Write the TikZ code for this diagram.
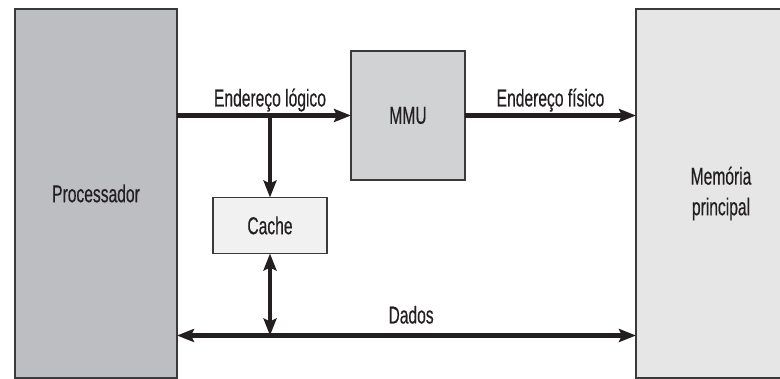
\documentclass[tikz,border=0pt]{standalone}
\usepackage{fontspec}
\setmainfont{Liberation Sans}[FakeStretch=0.64, FakeBold=0.4]
\usepackage{tikz}
\usetikzlibrary{arrows.meta, positioning}

\definecolor{proccolor}{HTML}{BDBEC2}
\definecolor{mmucolor}{HTML}{D1D2D4}
\definecolor{cachecolor}{HTML}{F1F1F1}
\definecolor{memcolor}{HTML}{E6E6E6}
\definecolor{edgegray}{HTML}{3A3A3A}
\definecolor{inkgray}{HTML}{231F20}

\begin{document}
\begin{tikzpicture}[font=\fontsize{12.2}{15.3}\selectfont]

	\tikzset{
		block/.style={
				rectangle, draw=edgegray, line width=0.6pt, inner sep=0pt, outer sep=0pt, text=inkgray
			},
		link/.style={
				draw=inkgray, line width=2.25pt, -{Stealth[length=8.5pt, width=6.5pt, inset=1.5pt]}
			},
		twolink/.style={
				draw=inkgray, line width=2.25pt, {Stealth[length=8.5pt, width=6.5pt, inset=1.5pt]}-{Stealth[length=8.5pt, width=6.5pt, inset=1.5pt]}
			},
		tag/.style={
				text=inkgray, inner sep=0pt
			},
	}
	\useasboundingbox (0,0) rectangle (390pt,189.5pt);

	\node[block, fill=proccolor, minimum width=81pt, minimum height=184.5pt] (proc) at (48pt,92.75pt) {Processador};
	\node[block, fill=memcolor, minimum width=85pt, minimum height=184.5pt, align=center, right=229.5pt of proc] (mem) {Memória\\principal};
	\node[block, fill=mmucolor, minimum width=57pt, minimum height=64.5pt] (mmu) at (204pt,131.75pt) {MMU};

	\path (mmu.west) ++(-40.5pt,0) coordinate (fork);
	\node[block, fill=cachecolor, minimum width=57pt, minimum height=28pt, below=41pt of fork] (cache) {Cache};
	\coordinate[below=41pt of cache.south] (bus);

	\node[tag, above=4.5pt of fork, anchor=base] (tlog) {Endereço lógico};

	\draw[link] (proc.east |- fork) -- (mmu.west);
	\draw[link] (fork) -- (cache.north);
	\draw[link] (mmu.east) -- (mem.west |- mmu.east)
		node[tag, midway, above=4.5pt, anchor=base] (tphys) {Endereço físico};

	\draw[twolink] (proc.east |- bus) -- (mem.west |- bus)
		node[tag, pos=0.51, above=6pt, anchor=base] (tdata) {Dados};
	\draw[twolink] (cache.south) -- (bus);

\end{tikzpicture}
\end{document}
